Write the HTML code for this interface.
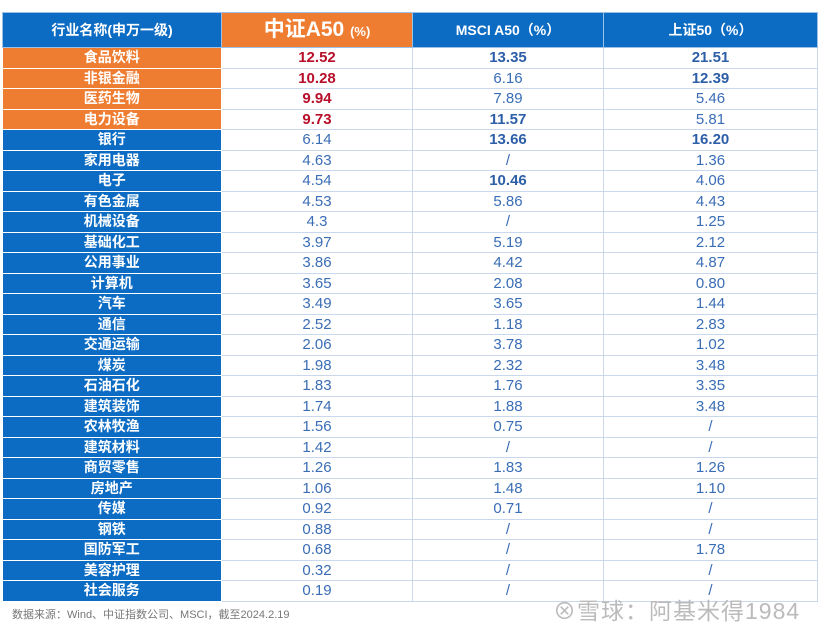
<!DOCTYPE html>
<html><head><meta charset="utf-8"><style>
body{margin:0;width:830px;height:630px;background:#fff;position:relative;overflow:hidden;font-family:"Liberation Sans","Noto Sans CJK SC",sans-serif;}
table{position:absolute;left:2px;top:12px;border-collapse:collapse;table-layout:fixed;}
td,th{padding:0;text-align:center;border:1px solid #c9d8ec;height:19.5px;line-height:19px;font-size:15px;color:#3a6db5;}
th{height:34px;background:#0c6cc4;color:#fff;font-size:14px;font-weight:bold;border-color:#9cc0e6;}
th.o{background:#ef7d31;font-size:21px;}
th.o small{font-size:13px;}
td.n{background:#0c6cc4;color:#fff;font-weight:bold;font-size:14px;border-color:#fff;border-left:none;}
td.n.o{background:#ef7d31;}
.r{color:#b8102a;font-weight:bold;}
.b{font-weight:bold;color:#2d5ea8;}
#foot{position:absolute;left:12px;top:606px;font-size:11px;color:#777;}
#wm{position:absolute;left:553px;top:592px;font-size:23px;color:#bbb;letter-spacing:1px;}
</style></head><body>
<table>
<colgroup><col style="width:219px"><col style="width:191px"><col style="width:191px"><col style="width:214px"></colgroup>
<thead><tr>
<th>行业名称(申万一级)</th>
<th class="o">中证A50 <small>(%)</small></th>
<th>MSCI A50（%）</th>
<th>上证50（%）</th>
</tr></thead>
<tbody id="tb"></tbody>
</table>
<div id="foot">数据来源：Wind、中证指数公司、MSCI，截至2024.2.19</div>
<div id="wm">⊗雪球：阿基米得1984</div>
<script>
const industries=["食品饮料","非银金融","医药生物","电力设备","银行","家用电器","电子","有色金属","机械设备","基础化工","公用事业","计算机","汽车","通信","交通运输","煤炭","石油石化","建筑装饰","农林牧渔","建筑材料","商贸零售","房地产","传媒","钢铁","国防军工","美容护理","社会服务"];
const csiA50=["12.52","10.28","9.94","9.73","6.14","4.63","4.54","4.53","4.3","3.97","3.86","3.65","3.49","2.52","2.06","1.98","1.83","1.74","1.56","1.42","1.26","1.06","0.92","0.88","0.68","0.32","0.19"];
const msciA50=["13.35","6.16","7.89","11.57","13.66","/","10.46","5.86","/","5.19","4.42","2.08","3.65","1.18","3.78","2.32","1.76","1.88","0.75","/","1.83","1.48","0.71","/","/","/","/"];
const sse50=["21.51","12.39","5.46","5.81","16.20","1.36","4.06","4.43","1.25","2.12","4.87","0.80","1.44","2.83","1.02","3.48","3.35","3.48","/","/","1.26","1.10","/","/","1.78","/","/"];
const boldMsci=["13.35","11.57","13.66","10.46"];
const boldSse=["21.51","12.39","16.20"];
const tb=document.getElementById('tb');
industries.forEach((ind,i)=>{
  const tr=document.createElement('tr');
  
  
  const a=document.createElement('td');a.className='n'+(i<4?' o':'');a.textContent=ind;
  
  
  const b=document.createElement('td');b.textContent=csiA50[i];if(i<4)b.className='r';
  
  
  const c=document.createElement('td');c.textContent=msciA50[i];if(boldMsci.includes(msciA50[i]))c.className='b';
  
  
  const d=document.createElement('td');d.textContent=sse50[i];if(boldSse.includes(sse50[i]))d.className='b';
  
  
  tr.append(a,b,c,d);tb.appendChild(tr);
});
</script>
</body></html>
